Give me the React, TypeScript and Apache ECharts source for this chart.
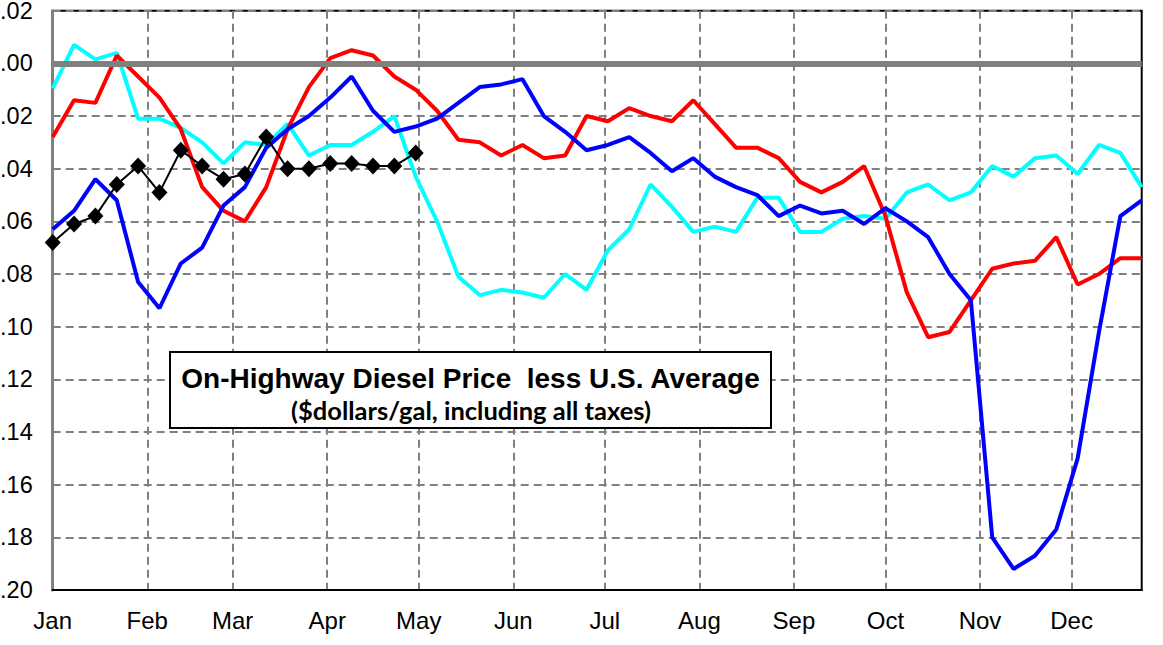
import React, { useEffect, useRef } from "react";
import * as echarts from "echarts";

const monthLabels = ["Jan", "Feb", "Mar", "Apr", "May", "Jun", "Jul", "Aug", "Sep", "Oct", "Nov", "Dec"];
const monthStartDays = [0, 31, 59, 90, 120, 151, 181, 212, 243, 273, 304, 334];

const weekDays = [
  0, 7, 14, 21, 28, 35, 42, 49, 56, 63, 70, 77, 84, 91, 98, 105, 112, 119, 126, 133,
  140, 147, 154, 161, 168, 175, 182, 189, 196, 203, 210, 217, 224, 231, 238, 245, 252,
  259, 266, 273, 280, 287, 294, 301, 308, 315, 322, 329, 336, 343, 350, 357,
];

const redValues = [
  -0.028, -0.014, -0.015, 0.003, -0.005, -0.013, -0.025, -0.047, -0.056, -0.06,
  -0.047, -0.025, -0.009, 0.002, 0.005, 0.003, -0.005, -0.01, -0.018, -0.029,
  -0.03, -0.035, -0.031, -0.036, -0.035, -0.02, -0.022, -0.017, -0.02, -0.022,
  -0.014, -0.023, -0.032, -0.032, -0.036, -0.045, -0.049, -0.045, -0.039, -0.058,
  -0.087, -0.104, -0.102, -0.09, -0.078, -0.076, -0.075, -0.066, -0.084, -0.08,
  -0.074, -0.074,
];

const blueValues = [
  -0.063, -0.056, -0.044, -0.052, -0.083, -0.093, -0.076, -0.07, -0.054, -0.047,
  -0.032, -0.025, -0.02, -0.013, -0.005, -0.018, -0.026, -0.024, -0.021, -0.015,
  -0.009, -0.008, -0.006, -0.02, -0.026, -0.033, -0.031, -0.028, -0.034, -0.041,
  -0.036, -0.043, -0.047, -0.05, -0.058, -0.054, -0.057, -0.056, -0.061, -0.055,
  -0.06, -0.066, -0.08, -0.09, -0.18, -0.192, -0.187, -0.177, -0.15, -0.102,
  -0.058, -0.052,
];

const cyanValues = [
  -0.0095, 0.007, 0.0015, 0.004, -0.021, -0.021, -0.0245, -0.03, -0.038, -0.03,
  -0.031, -0.023, -0.035, -0.031, -0.031, -0.026, -0.02, -0.043, -0.06, -0.081,
  -0.088, -0.086, -0.087, -0.089, -0.08, -0.086, -0.071, -0.063, -0.046, -0.0545,
  -0.064, -0.062, -0.064, -0.051, -0.051, -0.064, -0.064, -0.059, -0.058, -0.059,
  -0.049, -0.046, -0.052, -0.049, -0.039, -0.043, -0.036, -0.035, -0.042, -0.031,
  -0.034, -0.047,
];

const blackValues = [
  -0.068, -0.061, -0.058, -0.046, -0.039, -0.049, -0.033, -0.039, -0.044, -0.042,
  -0.028, -0.04, -0.04, -0.038, -0.038, -0.039, -0.039, -0.034,
];

const titleLine1 = "On-Highway Diesel Price  less U.S. Average";
const titleLine2 = "($dollars/gal, including all taxes)";

const pair = (vals: number[]) => vals.map((v, i) => [weekDays[i], v]);

export default function App() {
  const ref = useRef<HTMLDivElement>(null);

  useEffect(() => {
    if (!ref.current) return;
    const chart = echarts.init(ref.current, null, { renderer: "svg" });
    const font = "Arial, 'Liberation Sans', sans-serif";
    chart.setOption({
      animation: false,
      backgroundColor: "#ffffff",
      grid: {
        left: 52.7,
        top: 10.7,
        right: 1163 - 1141.7,
        bottom: 55,
        outerBoundsMode: "none",
        containLabel: false,
        show: true,
        borderColor: "#000000",
        borderWidth: 2,
        backgroundColor: "transparent",
      },
      xAxis: {
        type: "value",
        min: 0,
        max: 357,
        axisLine: { show: true, onZero: false, lineStyle: { color: "#000000", width: 2 } },
        axisTick: { show: false, customValues: monthStartDays },
        axisLabel: {
          customValues: monthStartDays,
          formatter: (v: number) => monthLabels[monthStartDays.indexOf(Math.round(v))] ?? "",
          fontSize: 24,
          color: "#000000",
          fontFamily: font,
          margin: 18,
          showMinLabel: true,
          showMaxLabel: true,
        },
        splitLine: {
          show: true,
          lineStyle: { color: "#808080", width: 2, type: [8, 5] },
        },
      },
      yAxis: {
        type: "value",
        min: -0.2,
        max: 0.02,
        interval: 0.02,
        axisLine: { show: true, onZero: false, lineStyle: { color: "#808080", width: 3 } },
        axisTick: { show: false },
        axisLabel: {
          formatter: (v: number) => Math.abs(v).toFixed(2).slice(1),
          fontSize: 23.5,
          lineHeight: 19,
          color: "#000000",
          fontFamily: font,
          margin: 20,
        },
        splitLine: {
          show: true,
          lineStyle: { color: "#808080", width: 2, type: [8, 5] },
        },
      },
      series: [
        {
          name: "zero",
          type: "line",
          data: [],
          z: 1,
          markLine: {
            silent: true,
            symbol: ["none", "none"],
            label: { show: false },
            lineStyle: { color: "#808080", width: 6, type: "solid" },
            data: [{ yAxis: 0 }],
          },
        },
        {
          name: "Cyan",
          type: "line",
          data: pair(cyanValues),
          showSymbol: false,
          lineStyle: { color: "#00FFFF", width: 4 },
          itemStyle: { color: "#00FFFF" },
          z: 3,
        },
        {
          name: "Red",
          type: "line",
          data: pair(redValues),
          showSymbol: false,
          lineStyle: { color: "#FF0000", width: 4 },
          itemStyle: { color: "#FF0000" },
          z: 4,
        },
        {
          name: "Blue",
          type: "line",
          data: pair(blueValues),
          showSymbol: false,
          lineStyle: { color: "#0000FF", width: 4 },
          itemStyle: { color: "#0000FF" },
          z: 5,
        },
        {
          name: "Black",
          type: "line",
          data: pair(blackValues),
          symbol: "diamond",
          symbolSize: [16, 17],
          showSymbol: true,
          lineStyle: { color: "#000000", width: 2 },
          itemStyle: { color: "#000000" },
          z: 6,
        },
      ],
      graphic: [
        {
          type: "rect",
          z: 100,
          shape: { x: 170, y: 352, width: 601, height: 76 },
          style: { fill: "#ffffff", stroke: "#000000", lineWidth: 2 },
        },
        {
          type: "text",
          z: 101,
          x: 470.5,
          y: 378,
          style: {
            text: titleLine1,
            fontSize: 28,
            fontWeight: "bold",
            fontFamily: font,
            fill: "#000000",
            align: "center",
            verticalAlign: "middle",
          },
        },
        {
          type: "text",
          z: 101,
          x: 471,
          y: 410,
          style: {
            text: titleLine2,
            fontSize: 25.5,
            fontWeight: "bold",
            fontFamily: "Lato, 'Open Sans', sans-serif",
            fill: "#000000",
            align: "center",
            verticalAlign: "middle",
          },
        },
      ],
    });
    return () => chart.dispose();
  }, []);

  return (
    <div
      ref={ref}
      style={{ position: "absolute", left: 0, top: 0, width: 1163, height: 645 }}
    />
  );
}
